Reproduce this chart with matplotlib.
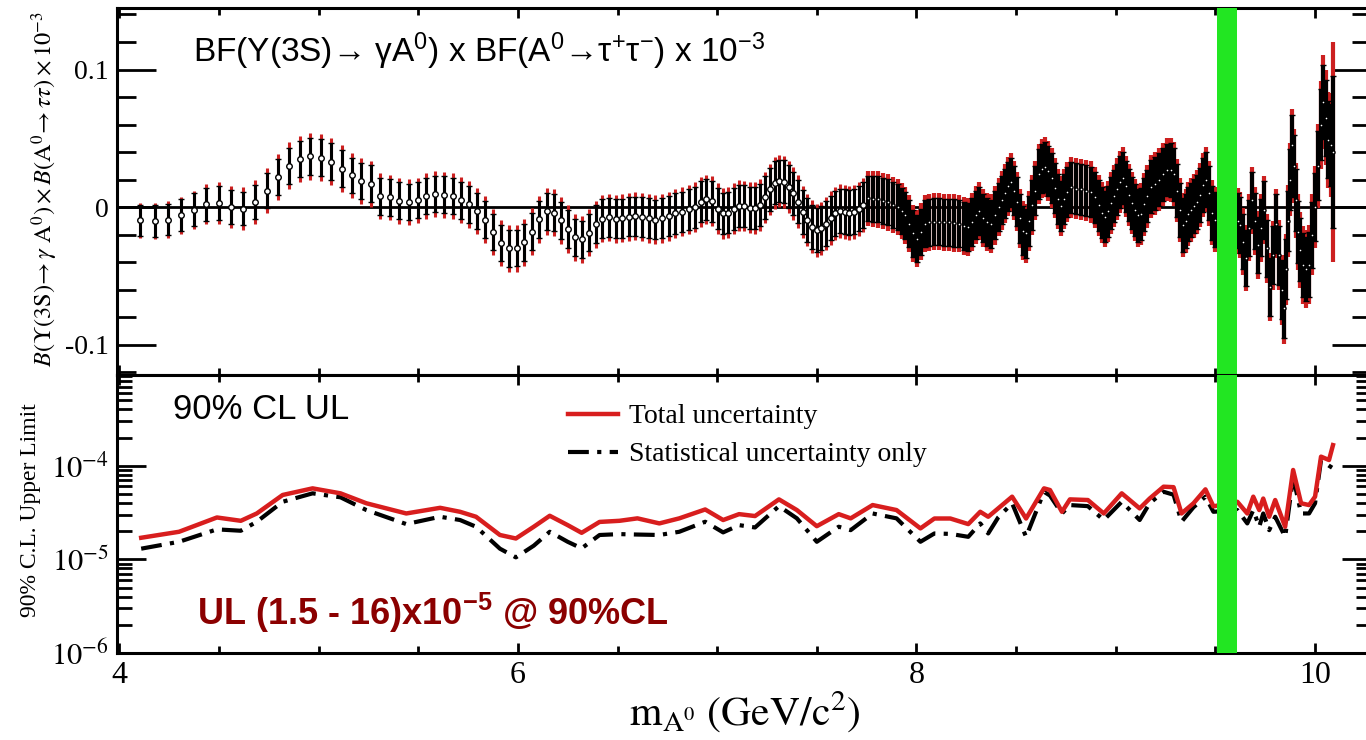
import matplotlib.pyplot as plt
from matplotlib.ticker import MultipleLocator, FixedLocator, LogLocator, NullFormatter

plt.rcParams['font.family'] = ['Liberation Serif', 'DejaVu Serif']
plt.rcParams['mathtext.fontset'] = 'stix'
# used by the sans-serif texts (math_fontfamily='custom')
plt.rcParams['mathtext.rm'] = 'Liberation Sans'
plt.rcParams['mathtext.it'] = 'Liberation Sans:italic'
plt.rcParams['mathtext.bf'] = 'Liberation Sans:bold'

# ---- top panel: BF product vs mass (x 10^-3) ----
mass = [
    # 4.1 - 5.2
    4.106, 4.178, 4.243, 4.312, 4.375, 4.437, 4.500, 4.563, 4.623, 4.680,
    4.740, 4.797, 4.850, 4.906, 4.959, 5.011, 5.064, 5.116, 5.168, 5.215,
    # 5.26 - 6.49
    5.263, 5.310, 5.357, 5.405, 5.453, 5.498, 5.541, 5.585, 5.628, 5.673,
    5.717, 5.757, 5.797, 5.837, 5.877, 5.917, 5.957, 5.994, 6.033, 6.070,
    6.106, 6.145, 6.182, 6.217, 6.253, 6.289, 6.324, 6.357, 6.391, 6.424,
    6.458, 6.491,
    # 6.52 - 7.73
    6.523, 6.556, 6.590, 6.623, 6.657, 6.690, 6.724, 6.757, 6.790, 6.824,
    6.857, 6.890, 6.919, 6.946, 6.974, 7.003, 7.030, 7.056, 7.083, 7.110,
    7.137, 7.164, 7.190, 7.217, 7.242, 7.265, 7.289, 7.312, 7.336, 7.359,
    7.382, 7.406, 7.430, 7.453, 7.476, 7.500, 7.523, 7.546, 7.570, 7.593,
    7.617, 7.640, 7.663, 7.687, 7.710, 7.733,
    # 7.75 - 9.50
    7.755, 7.780, 7.805, 7.830, 7.855, 7.880, 7.905, 7.925, 7.945, 7.965,
    7.985, 8.005, 8.025, 8.045, 8.065, 8.090, 8.115, 8.140, 8.165, 8.190,
    8.215, 8.240, 8.260, 8.280, 8.300, 8.315, 8.335, 8.355, 8.375, 8.395,
    8.415, 8.430, 8.445, 8.460, 8.475, 8.490, 8.505, 8.520, 8.535, 8.550,
    8.565, 8.580, 8.595, 8.615, 8.630, 8.645, 8.660, 8.680, 8.695, 8.710,
    8.725, 8.740, 8.755, 8.775, 8.800, 8.825, 8.850, 8.875, 8.895, 8.915,
    8.930, 8.945, 8.960, 8.975, 8.990, 9.005, 9.020, 9.035, 9.050, 9.065,
    9.080, 9.095, 9.110, 9.125, 9.140, 9.155, 9.175, 9.195, 9.215, 9.235,
    9.255, 9.275, 9.290, 9.305, 9.320, 9.335, 9.350, 9.365, 9.380, 9.395,
    9.410, 9.425, 9.440, 9.455, 9.470, 9.485, 9.500,
    # 9.6 - 10.1
    9.615, 9.625, 9.640, 9.655, 9.670, 9.685, 9.700, 9.715, 9.730, 9.745,
    9.760, 9.775, 9.790, 9.805, 9.820, 9.835, 9.845, 9.855, 9.865, 9.875,
    9.885, 9.895, 9.905, 9.915, 9.925, 9.940, 9.955, 9.970, 9.985, 10.000,
    10.015, 10.030, 10.042, 10.055, 10.067, 10.078, 10.089,
]

bf = [
    -0.0095, -0.0100, -0.0090, -0.0060, -0.0020, 0.0020, 0.0030, 0.0000, -0.0010, 0.0040,
    0.0120, 0.0220, 0.0300, 0.0350, 0.0370, 0.0360, 0.0330, 0.0280, 0.0230, 0.0190,

    0.0170, 0.0080, 0.0070, 0.0046, 0.0036, 0.0050, 0.0080, 0.0095, 0.0090, 0.0080,
    0.0050, 0.0020, -0.0027, -0.0090, -0.0180, -0.0260, -0.0300, -0.0298, -0.0255, -0.0180,
    -0.0087, -0.0030, -0.0040, -0.0095, -0.0160, -0.0220, -0.0235, -0.0185, -0.0126, -0.0083,
    -0.0075, -0.0085,

    -0.0080, -0.0070, -0.0066, -0.0070, -0.0080, -0.0090, -0.0080, -0.0066, -0.0046, -0.0034,
    -0.0017, 0.0000, 0.0040, 0.0056, 0.0044, -0.0010, -0.0046, -0.0040, -0.0012, 0.0010,
    0.0008, -0.0004, -0.0007, 0.0015, 0.0070, 0.0130, 0.0177, 0.0190, 0.0184, 0.0148,
    0.0100, 0.0040, -0.0034, -0.0095, -0.0143, -0.0167, -0.0155, -0.0119, -0.0080, -0.0046,
    -0.0027, -0.0034, -0.0040, -0.0034, -0.0012, 0.0015,

    0.0063, 0.0060, 0.0056, 0.0045, 0.0034, 0.0015, 0.0000, -0.0030, -0.0060, -0.0120,
    -0.0190, -0.0230, -0.0180, -0.0120, -0.0110, -0.0107, -0.0105, -0.0110, -0.0110, -0.0115,
    -0.0120, -0.0135, -0.0143, -0.0110, -0.0060, -0.0030, -0.0080, -0.0110, -0.0120, -0.0060,
    0.0000, 0.0050, 0.0100, 0.0150, 0.0180, 0.0120, 0.0040, -0.0080, -0.0170, -0.0190,
    -0.0100, 0.0015, 0.0120, 0.0240, 0.0280, 0.0290, 0.0260, 0.0210, 0.0140, 0.0060,
    0.0010, 0.0060, 0.0110, 0.0143, 0.0135, 0.0130, 0.0120, 0.0110, 0.0070, 0.0015,
    -0.0040, -0.0070, -0.0030, 0.0030, 0.0080, 0.0130, 0.0180, 0.0210, 0.0150, 0.0090,
    0.0030, -0.0020, -0.0060, -0.0050, 0.0020, 0.0080, 0.0148, 0.0170, 0.0200, 0.0240,
    0.0270, 0.0270, 0.0240, 0.0120, -0.0020, -0.0130, -0.0100, -0.0050, -0.0020, 0.0010,
    0.0040, 0.0090, 0.0160, 0.0200, 0.0100, -0.0040, -0.0090,

    -0.0100, -0.0130, -0.0250, -0.0370, -0.0150, 0.0050, -0.0100, -0.0276, -0.0150, -0.0020,
    -0.0300, -0.0580, -0.0350, -0.0120, -0.0350, -0.0600, -0.0735, -0.0450, -0.0100, 0.0200,
    0.0450, 0.0300, 0.0050, -0.0180, -0.0310, -0.0420, -0.0450, -0.0420, -0.0200, 0.0000,
    0.0300, 0.0600, 0.0766, 0.0650, 0.0490, 0.0450, 0.0400,
]

err_stat = [
    0.0113, 0.0115, 0.0115, 0.0117, 0.0120, 0.0120, 0.0120, 0.0122, 0.0123, 0.0124,
    0.0127, 0.0130, 0.0132, 0.0133, 0.0133, 0.0133, 0.0133, 0.0132, 0.0130, 0.0130,

    0.0136, 0.0134, 0.0133, 0.0133, 0.0132, 0.0132, 0.0132, 0.0132, 0.0133, 0.0133,
    0.0133, 0.0133, 0.0133, 0.0133, 0.0133, 0.0133, 0.0133, 0.0133, 0.0133, 0.0134,
    0.0134, 0.0134, 0.0135, 0.0135, 0.0136, 0.0136, 0.0137, 0.0137, 0.0138, 0.0139,
    0.0140, 0.0141,

    0.0142, 0.0143, 0.0143, 0.0144, 0.0144, 0.0145, 0.0145, 0.0146, 0.0146, 0.0147,
    0.0147, 0.0148, 0.0148, 0.0149, 0.0149, 0.0150, 0.0150, 0.0151, 0.0151, 0.0152,
    0.0152, 0.0153, 0.0153, 0.0154, 0.0154, 0.0155, 0.0155, 0.0156, 0.0156, 0.0157,
    0.0157, 0.0158, 0.0158, 0.0159, 0.0159, 0.0160, 0.0160, 0.0161, 0.0161, 0.0162,
    0.0162, 0.0163, 0.0163, 0.0164, 0.0164, 0.0165,

    0.0166, 0.0166, 0.0167, 0.0167, 0.0167, 0.0168, 0.0168, 0.0168, 0.0169, 0.0169,
    0.0169, 0.0170, 0.0170, 0.0170, 0.0170, 0.0171, 0.0171, 0.0171, 0.0172, 0.0172,
    0.0172, 0.0173, 0.0173, 0.0173, 0.0174, 0.0174, 0.0174, 0.0175, 0.0175, 0.0175,
    0.0176, 0.0176, 0.0176, 0.0177, 0.0177, 0.0177, 0.0178, 0.0178, 0.0178, 0.0179,
    0.0179, 0.0179, 0.0180, 0.0180, 0.0180, 0.0181, 0.0181, 0.0181, 0.0182, 0.0182,
    0.0182, 0.0183, 0.0183, 0.0183, 0.0184, 0.0184, 0.0184, 0.0185, 0.0185, 0.0185,
    0.0186, 0.0186, 0.0186, 0.0187, 0.0187, 0.0187, 0.0188, 0.0188, 0.0188, 0.0189,
    0.0189, 0.0189, 0.0190, 0.0190, 0.0190, 0.0191, 0.0191, 0.0191, 0.0192, 0.0192,
    0.0192, 0.0193, 0.0193, 0.0193, 0.0194, 0.0194, 0.0194, 0.0195, 0.0195, 0.0195,
    0.0196, 0.0196, 0.0196, 0.0197, 0.0197, 0.0197, 0.0198,

    0.0200, 0.0200, 0.0201, 0.0202, 0.0203, 0.0204, 0.0205, 0.0206, 0.0207, 0.0208,
    0.0209, 0.0210, 0.0211, 0.0212, 0.0213, 0.0214, 0.0215, 0.0216, 0.0218, 0.0220,
    0.0222, 0.0224, 0.0226, 0.0228, 0.0230, 0.0232, 0.0234, 0.0236, 0.0240, 0.0245,
    0.0250, 0.0260, 0.0270, 0.0275, 0.0280, 0.0300, 0.0550,
]

err_tot = [
    0.0128, 0.0130, 0.0132, 0.0135, 0.0140, 0.0145, 0.0150, 0.0152, 0.0155, 0.0160,
    0.0163, 0.0167, 0.0170, 0.0170, 0.0170, 0.0170, 0.0170, 0.0168, 0.0165, 0.0165,

    0.0166, 0.0165, 0.0165, 0.0165, 0.0165, 0.0165, 0.0166, 0.0166, 0.0167, 0.0167,
    0.0168, 0.0168, 0.0169, 0.0169, 0.0170, 0.0170, 0.0171, 0.0171, 0.0171, 0.0171,
    0.0171, 0.0171, 0.0172, 0.0172, 0.0172, 0.0172, 0.0173, 0.0173, 0.0173, 0.0173,
    0.0174, 0.0174,

    0.0175, 0.0175, 0.0176, 0.0176, 0.0177, 0.0177, 0.0178, 0.0178, 0.0179, 0.0179,
    0.0180, 0.0180, 0.0181, 0.0181, 0.0182, 0.0182, 0.0183, 0.0183, 0.0184, 0.0184,
    0.0185, 0.0185, 0.0186, 0.0186, 0.0187, 0.0187, 0.0188, 0.0188, 0.0189, 0.0189,
    0.0190, 0.0190, 0.0191, 0.0191, 0.0192, 0.0192, 0.0193, 0.0193, 0.0194, 0.0194,
    0.0195, 0.0195, 0.0196, 0.0196, 0.0197, 0.0197,

    0.0203, 0.0203, 0.0204, 0.0204, 0.0204, 0.0205, 0.0205, 0.0205, 0.0206, 0.0206,
    0.0206, 0.0207, 0.0207, 0.0207, 0.0207, 0.0208, 0.0208, 0.0208, 0.0209, 0.0209,
    0.0209, 0.0210, 0.0210, 0.0210, 0.0211, 0.0211, 0.0211, 0.0212, 0.0212, 0.0212,
    0.0213, 0.0213, 0.0213, 0.0214, 0.0214, 0.0214, 0.0215, 0.0215, 0.0215, 0.0216,
    0.0216, 0.0216, 0.0217, 0.0217, 0.0217, 0.0218, 0.0218, 0.0218, 0.0219, 0.0219,
    0.0219, 0.0220, 0.0220, 0.0220, 0.0221, 0.0221, 0.0221, 0.0222, 0.0222, 0.0222,
    0.0223, 0.0223, 0.0223, 0.0224, 0.0224, 0.0224, 0.0225, 0.0225, 0.0225, 0.0226,
    0.0226, 0.0226, 0.0227, 0.0227, 0.0227, 0.0228, 0.0228, 0.0228, 0.0229, 0.0229,
    0.0229, 0.0230, 0.0230, 0.0230, 0.0231, 0.0231, 0.0231, 0.0232, 0.0232, 0.0232,
    0.0233, 0.0233, 0.0233, 0.0234, 0.0234, 0.0234, 0.0235,

    0.0240, 0.0240, 0.0241, 0.0242, 0.0243, 0.0244, 0.0245, 0.0246, 0.0247, 0.0248,
    0.0249, 0.0250, 0.0251, 0.0252, 0.0253, 0.0254, 0.0256, 0.0258, 0.0260, 0.0263,
    0.0266, 0.0269, 0.0272, 0.0275, 0.0278, 0.0281, 0.0284, 0.0287, 0.0292, 0.0298,
    0.0305, 0.0320, 0.0340, 0.0345, 0.0350, 0.0380, 0.0800,
]

# ---- bottom panel: 90% CL upper limits ----
ul_mass = [
    4.11, 4.30, 4.49, 4.61, 4.69, 4.82, 4.97, 5.11, 5.24, 5.44,
    5.61, 5.71, 5.79, 5.91, 5.99, 6.08, 6.16, 6.25, 6.32, 6.41,
    6.51, 6.60, 6.71, 6.81, 6.94, 7.03, 7.11, 7.19, 7.31, 7.40,
    7.50, 7.61, 7.67, 7.78, 7.90, 8.02, 8.09, 8.17, 8.26, 8.32,
    8.36, 8.41, 8.48, 8.55, 8.64, 8.67, 8.73, 8.77, 8.86, 8.94,
    9.03, 9.12, 9.17, 9.24, 9.29, 9.33, 9.39, 9.45, 9.49, 9.61,
    9.66, 9.69, 9.72, 9.74, 9.77, 9.80, 9.85, 9.89, 9.93, 9.97,
    10.00, 10.03, 10.07, 10.09,
]
ul_total = [
    1.70e-5, 1.97e-5, 2.80e-5, 2.58e-5, 3.09e-5, 4.87e-5, 5.73e-5, 5.07e-5, 3.97e-5, 3.09e-5,
    3.55e-5, 3.22e-5, 2.85e-5, 1.82e-5, 1.67e-5, 2.23e-5, 2.92e-5, 2.32e-5, 1.92e-5, 2.51e-5,
    2.58e-5, 2.74e-5, 2.42e-5, 2.74e-5, 3.41e-5, 2.63e-5, 3.04e-5, 2.90e-5, 4.37e-5, 3.36e-5,
    2.26e-5, 3.04e-5, 2.74e-5, 3.80e-5, 3.36e-5, 2.14e-5, 2.73e-5, 2.73e-5, 2.38e-5, 3.22e-5,
    2.85e-5, 3.50e-5, 4.67e-5, 2.73e-5, 5.73e-5, 5.50e-5, 3.22e-5, 4.37e-5, 4.30e-5, 3.09e-5,
    5.07e-5, 3.50e-5, 4.46e-5, 5.97e-5, 5.90e-5, 3.09e-5, 3.97e-5, 5.59e-5, 3.68e-5, 4.12e-5,
    3.09e-5, 4.67e-5, 3.36e-5, 4.46e-5, 2.85e-5, 4.30e-5, 2.23e-5, 9.00e-5, 3.97e-5, 3.80e-5,
    4.67e-5, 1.25e-4, 1.15e-4, 1.66e-4,
]
ul_stat = [
    1.30e-5, 1.54e-5, 2.09e-5, 2.02e-5, 2.52e-5, 4.12e-5, 5.07e-5, 4.60e-5, 3.36e-5, 2.38e-5,
    2.85e-5, 2.63e-5, 2.23e-5, 1.30e-5, 1.05e-5, 1.40e-5, 1.97e-5, 1.54e-5, 1.31e-5, 1.82e-5,
    1.86e-5, 1.84e-5, 1.82e-5, 1.97e-5, 2.52e-5, 1.94e-5, 2.32e-5, 2.19e-5, 3.70e-5, 2.74e-5,
    1.54e-5, 2.23e-5, 2.05e-5, 3.09e-5, 2.74e-5, 1.54e-5, 1.89e-5, 1.87e-5, 1.74e-5, 2.42e-5,
    1.89e-5, 2.80e-5, 3.97e-5, 1.74e-5, 5.27e-5, 4.80e-5, 3.09e-5, 3.80e-5, 3.70e-5, 2.63e-5,
    4.12e-5, 2.63e-5, 3.97e-5, 5.27e-5, 4.90e-5, 2.52e-5, 3.60e-5, 4.67e-5, 3.22e-5, 3.36e-5,
    2.42e-5, 3.36e-5, 2.23e-5, 3.09e-5, 2.05e-5, 2.85e-5, 1.74e-5, 7.60e-5, 3.09e-5, 3.09e-5,
    3.97e-5, 1.15e-4, 1.00e-4, 9.40e-5,
]

band = (9.507, 9.607)   # masked region
red = '#d81e1e'
green = '#22e622'

fig = plt.figure(figsize=(13.66, 7.40), dpi=100)
ax1 = fig.add_axes([0.0857, 0.4932, 0.918, 0.4960])
ax2 = fig.add_axes([0.0857, 0.1176, 0.918, 0.3756], sharex=ax1)

# top panel: sparse part drawn with open circles, dense part (m > 7.74) thicker
ax1.axhline(0, color='black', lw=2, zorder=1)
n = sum(1 for m in mass if m < 7.74)
parts = [(slice(0, n), 2.2, 4), (slice(n, None), 3.0, 2.2)]
for sl, lw, ms in parts:
    ax1.errorbar(mass[sl], bf[sl], yerr=err_tot[sl], fmt='none', ecolor='#cc2020',
                 elinewidth=lw, capsize=0, zorder=2)
    ax1.errorbar(mass[sl], bf[sl], yerr=err_stat[sl], fmt='o', color='black', ms=ms,
                 mfc='white', mec='black', mew=1.0, elinewidth=lw,
                 capsize=2.2, capthick=2.2, zorder=3)
ax1.axvspan(*band, color=green, lw=0, zorder=5)
ax1.set_ylim(-0.122, 0.1447)
ax1.set_xlim(3.989, 10.281)

# bottom panel
ax2.plot(ul_mass, ul_total, color=red, lw=3.2, label='Total uncertainty', zorder=3)
ax2.plot(ul_mass, ul_stat, color='black', lw=3, ls=(0, (5, 2, 1, 2)),
         label='Statistical uncertainty only', zorder=2)
ax2.axvspan(*band, color=green, lw=0, zorder=5)
ax2.set_yscale('log')
ax2.set_ylim(1e-6, 9.3e-4)

for ax in (ax1, ax2):
    for s in ax.spines.values():
        s.set_linewidth(2.2)
    ax.xaxis.set_major_locator(FixedLocator([4, 6, 8, 10]))
    ax.xaxis.set_minor_locator(MultipleLocator(0.5))
    ax.tick_params(axis='x', which='both', direction='in', top=True, bottom=True,
                   width=2, labelsize=23, pad=6)
    ax.tick_params(axis='x', which='major', length=7)
    ax.tick_params(axis='x', which='minor', length=5)
    ax.tick_params(axis='y', which='both', direction='in', left=True, right=True,
                   width=2, labelsize=20, pad=6)

ax1.tick_params(axis='x', labelbottom=False)
ax1.yaxis.set_major_locator(FixedLocator([-0.1, 0, 0.1]))
ax1.yaxis.set_minor_locator(MultipleLocator(0.02))
ax1.set_yticklabels(['-0.1', '0', '0.1'])
ax1.tick_params(axis='y', which='major', length=28)
ax1.tick_params(axis='y', which='minor', length=14)

ax2.yaxis.set_major_locator(FixedLocator([1e-6, 1e-5, 1e-4, 1e-3]))
ax2.yaxis.set_minor_locator(LogLocator(base=10, subs=range(2, 10), numticks=20))
ax2.yaxis.set_minor_formatter(NullFormatter())
ax2.set_yticklabels([r'$10^{-6}$', r'$10^{-5}$', r'$10^{-4}$', r'$10^{-3}$'])
ax2.tick_params(axis='y', which='major', length=21, labelsize=22)
ax2.tick_params(axis='y', which='minor', length=11)
ax2.set_xticklabels(['4', '6', '8', '10'])

# axis labels
fig.text(0.033, 0.745,
         r'$B(\Upsilon\mathrm{(3S)}\!\rightarrow\gamma\ \mathrm{A}^0)\times B(\mathrm{A}^0\!\rightarrow\tau\tau)\times10^{-3}$',
         rotation=90, ha='center', va='center', fontsize=17.5)
fig.text(0.022, 0.31, '90% C.L. Upper Limit', rotation=90,
         ha='center', va='center', fontsize=17)
fig.text(0.545, 0.038, r'$\mathrm{m}_{\mathrm{A}^0}\ \mathrm{(GeV/c^2)}$',
         ha='center', va='center', fontsize=30)

# annotations
sans = ['Liberation Sans', 'DejaVu Sans']
fig.text(193 / 1366, 1 - 62 / 740,
         r'BF(Y(3S)→ γA$^{\mathrm{0}}$) x BF(A$^{\mathrm{0}}$→τ$^{\mathrm{+}}$τ$^{\mathrm{-}}$) x 10$^{\mathrm{-3}}$',
         family=sans, math_fontfamily='custom', fontsize=24, va='baseline')
fig.text(173 / 1366, 1 - 419 / 740, '90% CL UL', family=sans,
         fontsize=25, va='baseline')
fig.text(197 / 1366, 1 - 625 / 740, r'UL (1.5 - 16)x10$^{\mathbf{-5}}$ @ 90%CL',
         family=sans, math_fontfamily='custom', fontsize=26, fontweight='bold',
         color='#8b0000', va='baseline')

ax2.legend(loc='upper left', bbox_to_anchor=(568 / 1366, 1 - 404 / 740),
           bbox_transform=fig.transFigure, frameon=False, fontsize=20,
           handlelength=1.8, handletextpad=0.4, labelspacing=0.45,
           borderpad=0, borderaxespad=0)

fig.savefig('out.png', dpi=100)
